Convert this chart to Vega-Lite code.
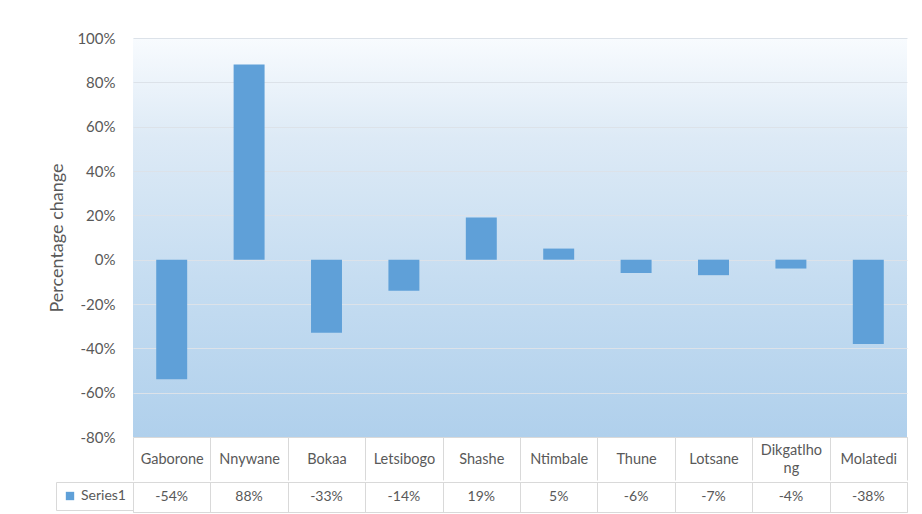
{
  "$schema": "https://vega.github.io/schema/vega-lite/v6.json",
  "autosize": {"type": "none"},
  "padding": {"left": 133, "top": 38, "right": 789, "bottom": 476},
  "background": "white",
  "config": {
    "font": "Lato",
    "view": {"stroke": null},
    "locale": {"number": {"decimal": ".", "thousands": ",", "grouping": [3], "currency": ["$", ""], "minus": "-"}}
  },
  "resolve": {"legend": {"color": "independent"}, "scale": {"color": "independent"}},
  "data": {"values": [
    {"site": "Gaborone", "change": -0.54, "series": "Series1"},
    {"site": "Nnywane", "change": 0.88, "series": "Series1"},
    {"site": "Bokaa", "change": -0.33, "series": "Series1"},
    {"site": "Letsibogo", "change": -0.14, "series": "Series1"},
    {"site": "Shashe", "change": 0.19, "series": "Series1"},
    {"site": "Ntimbale", "change": 0.05, "series": "Series1"},
    {"site": "Thune", "change": -0.06, "series": "Series1"},
    {"site": "Lotsane", "change": -0.07, "series": "Series1"},
    {"site": "Dikgatlhong", "change": -0.04, "series": "Series1"},
    {"site": "Molatedi", "change": -0.38, "series": "Series1"}
  ]},
  "spacing": 0,
  "vconcat": [
    {
      "width": 774,
      "height": 399,
      "view": {"stroke": null, "fill": {"gradient": "linear", "x1": 0, "y1": 0, "x2": 0, "y2": 1, "stops": [
        {"offset": 0, "color": "#F8FBFE"},
        {"offset": 0.25, "color": "#DDEAF6"},
        {"offset": 0.6, "color": "#C6DDF1"},
        {"offset": 1, "color": "#B0D0EC"}
      ]}},
      "mark": {"type": "bar", "color": "#5FA0D8", "width": {"band": 0.4}},
      "encoding": {
        "x": {
          "field": "site", "type": "nominal", "sort": null,
          "scale": {"paddingInner": 0, "paddingOuter": 0},
          "axis": {
            "title": null, "labelAngle": 0, "labelFontSize": 14.5, "labelColor": "#595959",
            "labelExpr": "datum.label == 'Dikgatlhong' ? ['Dikgatlho', 'ng'] : datum.label",
            "labelLineHeight": 18, "labelBaseline": "middle",
            "labelPadding": {"condition": {"test": "datum.value == 'Dikgatlhong'", "value": -30}, "value": -21},
            "domain": true, "domainColor": "#D9D9D9", "ticks": true, "tickBand": "extent",
            "tickSize": 43, "tickColor": "#D9D9D9", "grid": false, "labelLimit": 0
          }
        },
        "y": {
          "field": "change", "type": "quantitative",
          "scale": {"domain": [-0.8, 1.0], "nice": false},
          "axis": {
            "values": [-0.8, -0.6, -0.4, -0.2, 0, 0.2, 0.4, 0.6, 0.8, 1.0],
            "format": ".0%", "grid": true, "gridColor": "#DCE2E9", "domain": false, "ticks": false,
            "labelFontSize": 15, "labelColor": "#595959", "labelPadding": 18,
            "title": "Percentage change", "titleFontSize": 18, "titleFontWeight": "normal",
            "titleColor": "#595959", "titlePadding": 10
          }
        }
      }
    },
    {
      "width": 774,
      "height": 30,
      "view": {"stroke": "#D9D9D9"},
      "encoding": {
        "x": {
          "field": "site", "type": "nominal", "sort": null,
          "scale": {"paddingInner": 0, "paddingOuter": 0},
          "axis": {"title": null, "labels": false, "ticks": false, "domain": false, "grid": true, "tickBand": "extent", "gridColor": "#D9D9D9"}
        }
      },
      "layer": [
        {
          "mark": {"type": "text", "fontSize": 14, "color": "#595959"},
          "encoding": {"text": {"field": "change", "type": "quantitative", "format": ".0%"}}
        },
        {
          "mark": {"type": "square", "opacity": 0},
          "encoding": {
            "color": {
              "field": "series", "type": "nominal",
              "scale": {"range": ["#5FA0D8"]},
              "legend": {
                "orient": "left", "title": null, "symbolType": "square", "symbolSize": 70,
                "symbolOpacity": 1, "symbolStrokeWidth": 0, "labelFontSize": 14, "labelColor": "#595959",
                "padding": 7, "offset": 0, "strokeColor": "#D9D9D9", "labelOffset": 4
              }
            }
          }
        }
      ]
    }
  ]
}
